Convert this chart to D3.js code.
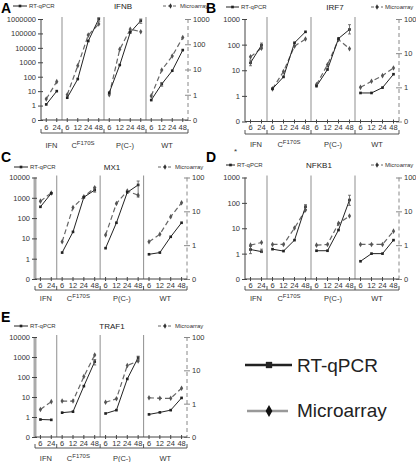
<!DOCTYPE html>
<html><head><meta charset="utf-8">
<script src="https://cdn.jsdelivr.net/npm/d3@7"></script>
<style>body{margin:0;background:#fff} svg{display:block;font-family:"Liberation Sans",Arial,sans-serif}</style>
</head><body><svg id="c" width="416" height="462"></svg>
<script>
const groups = ["IFN", "CF170S", "P(C-)", "WT"];
const groupTimes = [["6","24"],["6","12","24","48"],["6","12","24","48"],["6","12","24","48"]];

const ifnbRT = [1.2, 10, 3.5, 69, 30000, 1000000, 7.8, 650, 118000, 760000, 2.4, 31, 260, 7000];
const ifnbMA = [0.68, 3.3, 1.0, 14, 230, 630, 1.0, 63, 390, 315, 0.9, 9.6, 34, 186];
const irf7RT = [19.5, 95, 1.9, 5.5, 118, 316, 2.4, 10.7, 173, 390, 1.3, 1.3, 2.1, 7];
const irf7MA = [7.8, 14, 0.9, 2.9, 16, 26, 1.2, 4.6, 25, 13.5, 1.0, 1.5, 2.2, 3.7];
const mx1RT = [360, 1660, 2.0, 21, 1070, 2400, 3.3, 59, 1860, 4300, 1.65, 2.0, 12, 59];
const mx1MA = [20, 35, 1.26, 13, 27, 50, 2.0, 17, 40, 30, 1.26, 2.1, 6.9, 18];
const nfkb1RT = [1.45, 1.2, 1.5, 1.26, 3.4, 71, 1.3, 1.3, 8.5, 130, 0.5, 1.0, 1.0, 3.4];
const nfkb1MA = [1.0, 1.2, 1.05, 1.05, 3.2, 11, 1.0, 1.05, 4.4, 7.3, 1.05, 1.05, 1.05, 2.6];
const traf1RT = [0.75, 0.72, 1.65, 1.85, 35, 590, 1.5, 2.2, 80, 930, 1.35, 1.7, 2.2, 9];
const traf1MA = [0.67, 1.15, 1.2, 1.2, 6.5, 29, 1.1, 1.4, 14, 19, 1.5, 1.45, 1.45, 2.9];

const ticks7 = ["0","1","10","100","1000","10000","100000","1000000"];
const ticks6 = ["0","1","10","100","1000","10000"];
const ticks5 = ["0","1","10","100","1000"];
const ticks4 = ["0","1","10","100"];

// RT-qPCR error bars: [panel, slot index, low, high]
const rtErrors = [
  ["A", 5, 700000, 1200000], ["A", 9, 500000, 1000000], ["A", 11, 22, 40],
  ["B", 0, 15, 25], ["B", 1, 80, 115], ["B", 9, 260, 600],
  ["C", 5, 1900, 3300], ["C", 9, 1100, 6700],
  ["D", 0, 1.0, 1.9], ["D", 1, 1.1, 1.5], ["D", 5, 55, 85], ["D", 9, 80, 200],
  ["E", 5, 400, 750], ["E", 9, 750, 1100]
];

const panels = [
  {letter:"A", title:"IFNB", rt:ifnbRT, ma:ifnbMA, left:ticks7, right:ticks5,
   x0:41, x1:188, yTop:19, yBase:120, lx:1, ly:13, legY:6, legL:[13,27,29], tx:123, legR:[163,178,180],
   tickY:127, brY:133, grpY:145, thick:false},
  {letter:"B", title:"IRF7", rt:irf7RT, ma:irf7MA, left:ticks5, right:ticks4,
   x0:245, x1:399, yTop:19, yBase:121.5, lx:206, ly:13, legY:7, legL:[226,239,241], tx:335, legR:[371,383,385],
   tickY:127, brY:134, grpY:144, thick:false},
  {letter:"C", title:"MX1", rt:mx1RT, ma:mx1MA, left:ticks6, right:ticks4,
   x0:35, x1:187, yTop:177.5, yBase:279, lx:1, ly:162, legY:167, legL:[14,28,30], tx:112, legR:[158,172,175],
   tickY:285, brY:290, grpY:298, thick:true},
  {letter:"D", title:"NFKB1", rt:nfkb1RT, ma:nfkb1MA, left:ticks5, right:ticks4,
   x0:245, x1:399, yTop:177.5, yBase:279, lx:206, ly:162, legY:165, legL:[226,235,237], tx:319, legR:[371,383,385],
   tickY:285, brY:290, grpY:298, thick:false},
  {letter:"E", title:"TRAF1", rt:traf1RT, ma:traf1MA, left:ticks6, right:ticks4,
   x0:35, x1:187, yTop:337, yBase:437, lx:1, ly:322, legY:326, legL:[14,28,30], tx:112, legR:[158,172,175],
   tickY:443, brY:448, grpY:458, thick:true}
];

const svg = d3.select("#c");
const RTC = "#222", MAC = "#666";
const tickVal = s => s === "0" ? 0.1 : +s;
const keys = groups.flatMap((g, i) => groupTimes[i].map(t => g + "|" + t));
const sq = d3.symbol().type(d3.symbolSquare).size(7);
const di = d3.symbol().type(d3.symbolDiamond).size(9);

function drawPanel(p) {
  const g = svg.append("g");
  const x = d3.scaleBand().domain(keys).range([p.x0, p.x1]);
  const cx = k => x(k) + x.bandwidth() / 2;
  const yL = d3.scaleLog().domain([0.1, tickVal(p.left[p.left.length - 1])]).range([p.yBase, p.yTop]);
  const yR = d3.scaleLog().domain([0.1, tickVal(p.right[p.right.length - 1])]).range([p.yBase, p.yTop]);

  // letter, title, legends
  g.append("text").attr("x", p.lx).attr("y", p.ly).attr("font-size", 14).attr("font-weight", "bold").text(p.letter);
  g.append("text").attr("x", p.tx).attr("y", p.legY + 2.5).attr("text-anchor", "middle").attr("font-size", 8).attr("fill", "#222").text(p.title);
  g.append("line").attr("x1", p.legL[0]).attr("x2", p.legL[1]).attr("y1", p.legY).attr("y2", p.legY).attr("stroke", RTC).attr("stroke-width", 1);
  g.append("path").attr("d", sq).attr("transform", `translate(${(p.legL[0] + p.legL[1]) / 2},${p.legY})`).attr("fill", RTC);
  g.append("text").attr("x", p.legL[2]).attr("y", p.legY + 2).attr("font-size", 6).attr("fill", "#333").text("RT-qPCR");
  g.append("line").attr("x1", p.legR[0]).attr("x2", p.legR[1]).attr("y1", p.legY).attr("y2", p.legY).attr("stroke", MAC).attr("stroke-dasharray", "3,2");
  g.append("path").attr("d", di).attr("transform", `translate(${(p.legR[0] + p.legR[1]) / 2},${p.legY})`).attr("fill", "#333");
  g.append("text").attr("x", p.legR[2]).attr("y", p.legY + 2).attr("font-size", 6).attr("fill", "#333").text("Microarray");

  // group separators
  const bounds = [1, 2, 3].map(i => x(groups[i] + "|6"));
  g.selectAll(".sep").data(bounds).join("line")
    .attr("x1", d => d).attr("x2", d => d).attr("y1", p.yTop - 2).attr("y2", p.yBase)
    .attr("stroke", "#999").attr("stroke-width", 1.1);

  // left axis
  const la = g.append("g").attr("transform", `translate(${p.x0},0)`)
    .call(d3.axisLeft(yL).tickValues(p.left.map(tickVal)).tickFormat((d, i) => p.left[i]).tickSize(3).tickPadding(2));
  la.select(".domain").attr("stroke", p.thick ? "#aaa" : "#444").attr("stroke-width", p.thick ? 3 : 1).attr("d", `M0,${p.yTop}V${p.yBase}`);
  la.selectAll(".tick line").attr("x1", -3).attr("x2", 2).attr("stroke", "#444");
  la.selectAll(".tick text").attr("font-size", 7.5).attr("fill", "#333").attr("font-family", "Liberation Sans, Arial");

  // right axis
  const ra = g.append("g").attr("transform", `translate(${p.x1},0)`)
    .call(d3.axisRight(yR).tickValues(p.right.map(tickVal)).tickFormat((d, i) => p.right[i]).tickSize(3).tickPadding(2));
  ra.select(".domain").attr("stroke", "#888").attr("stroke-dasharray", "4,3").attr("d", `M0,${p.yTop}V${p.yBase}`);
  ra.selectAll(".tick line").attr("x1", -3).attr("x2", 3).attr("stroke", "#888");
  ra.selectAll(".tick text").attr("font-size", 7.5).attr("fill", "#333").attr("font-family", "Liberation Sans, Arial");

  // bottom axis
  const ba = g.append("g").attr("transform", `translate(0,${p.yBase})`)
    .call(d3.axisBottom(x).tickFormat(k => k.split("|")[1]).tickSize(2).tickPadding(2));
  ba.select(".domain").attr("stroke", "#444").attr("d", `M${p.x0},0H${p.x1}`);
  ba.selectAll(".tick line").attr("y1", -2).attr("y2", 2).attr("stroke", "#444");
  ba.selectAll(".tick text").attr("font-size", 7.5).attr("fill", "#333").attr("dy", null)
    .attr("y", p.tickY - p.yBase + 2.7).attr("font-family", "Liberation Sans, Arial");

  // bracket
  const bx = [p.x0, ...bounds, p.x1];
  g.append("path").attr("fill", "none").attr("stroke", "#444").attr("stroke-width", 0.9)
    .attr("d", `M${p.x0},${p.brY}H${p.x1}` + bx.map(v => `M${v},${p.brY}V${p.brY - 4}`).join(""));
  groups.forEach((gr, i) => {
    const first = x(gr + "|" + groupTimes[i][0]);
    const last = x(gr + "|" + groupTimes[i][groupTimes[i].length - 1]) + x.bandwidth();
    const t = g.append("text").attr("x", (first + last) / 2).attr("y", p.grpY + 2.7)
      .attr("text-anchor", "middle").attr("font-size", 7.5).attr("fill", "#333");
    if (gr === "CF170S") {
      t.append("tspan").text("C");
      t.append("tspan").attr("dy", -3).attr("font-size", 6).text("F170S");
    } else t.text(gr);
  });

  // series lines (per group)
  let idx = 0;
  groupTimes.forEach((times, gi) => {
    const ids = times.map((_, j) => idx + j);
    idx += times.length;
    const maLine = d3.line().x(i => cx(keys[i])).y(i => yR(p.ma[i]));
    const rtLine = d3.line().x(i => cx(keys[i])).y(i => yL(p.rt[i]));
    g.append("path").attr("d", maLine(ids)).attr("fill", "none").attr("stroke", MAC).attr("stroke-width", 1.2).attr("stroke-dasharray", "5,3");
    g.append("path").attr("d", rtLine(ids)).attr("fill", "none").attr("stroke", RTC).attr("stroke-width", 1);
    g.selectAll(null).data(ids).join("path").attr("d", di)
      .attr("transform", i => `translate(${cx(keys[i])},${yR(p.ma[i])})`).attr("fill", "#555");
    g.selectAll(null).data(ids).join("path").attr("d", sq)
      .attr("transform", i => `translate(${cx(keys[i])},${yL(p.rt[i])})`).attr("fill", RTC);
  });

  // error bars
  rtErrors.filter(e => e[0] === p.letter).forEach(e => {
    const xx = cx(keys[e[1]]), y1 = yL(e[2]), y2 = yL(e[3]);
    g.append("path").attr("fill", "none").attr("stroke", "#555").attr("stroke-width", 0.8)
      .attr("d", `M${xx},${y1}V${y2}M${xx - 1.5},${y1}H${xx + 1.5}M${xx - 1.5},${y2}H${xx + 1.5}`);
  });
}
panels.forEach(drawPanel);

svg.append("text").attr("x", 234).attr("y", 154).attr("font-size", 8).attr("fill", "#333").text("*");

// big legend
svg.append("line").attr("x1", 245).attr("x2", 292).attr("y1", 365).attr("y2", 365).attr("stroke", "#222").attr("stroke-width", 2.5);
svg.append("path").attr("d", d3.symbol().type(d3.symbolSquare).size(40)).attr("transform", "translate(269,365)").attr("fill", "#222");
svg.append("text").attr("x", 297).attr("y", 371.5).attr("font-size", 19).attr("fill", "#222").text("RT-qPCR");
svg.append("line").attr("x1", 247).attr("x2", 288).attr("y1", 411).attr("y2", 411).attr("stroke", "#999").attr("stroke-width", 2.5);
svg.append("path").attr("d", d3.symbol().type(d3.symbolDiamond).size(40)).attr("transform", "translate(269,411)").attr("fill", "#111");
svg.append("text").attr("x", 297).attr("y", 417).attr("font-size", 19).attr("fill", "#222").text("Microarray");
</script></body></html>
